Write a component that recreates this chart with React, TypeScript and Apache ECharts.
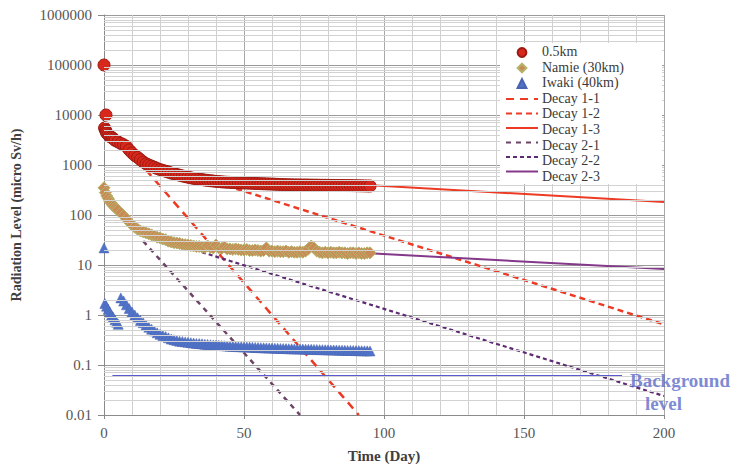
import React, { useEffect, useRef } from "react";
import * as echarts from "echarts";

const FONT = "Liberation Serif";

// ---- Data (day, micro Sv/h) ----
const km05Early: [number, number][] = [
  [0, 100000], [0.7, 10000],
  [0.2, 5500], [0.5, 5000], [0.8, 4600], [1, 4300], [1.5, 4000], [2, 3800],
  [2.5, 3600], [3, 3500], [3.5, 3300], [4, 3100],
];
const km05DailyStart = 5;
const km05Daily = [
  2900, 2700, 2550, 2350, 2000, 1750, 1550, 1420, 1280, 1150, 1060, 1000, 950, 900, 850, 810,
  780, 750, 720, 690, 670, 645, 625, 605, 585, 570, 555, 540, 530, 520, 510, 500, 492, 485, 478,
  470, 466, 460, 456, 452, 450, 447, 444, 442, 440, 438, 436, 433, 430, 428, 425, 423, 421, 419,
  417, 415, 413, 410, 408, 406, 404, 402, 401, 400, 400, 399, 398, 398, 397, 396, 395, 395, 394,
  393, 393, 392, 391, 391, 390, 390, 389, 388, 388, 387, 386, 385, 384, 383, 382, 381, 380,
];

const namieEarly: [number, number][] = [
  [0, 350], [0.5, 280], [1, 240], [1.5, 215], [2, 190], [2.5, 175], [3, 160], [3.5, 150],
  [4, 140], [4.5, 132],
];
const namieDailyStart = 5;
const namieDaily = [
  125, 110, 97, 84, 72, 63, 57, 52, 48, 46, 44, 42, 40, 38, 36, 35, 33, 32, 30, 29, 28, 27.5, 27,
  26, 25.5, 25, 24.5, 24, 23.5, 23.5, 23, 22.5, 24, 22.5, 22, 25, 22, 21.5, 23, 21, 21, 20.5, 21,
  20.5, 20, 20, 20.5, 19.5, 19.5, 20, 19.5, 19, 19.5, 22, 19, 19, 18.5, 19, 18.5, 18.5, 19, 18,
  18.5, 18, 18, 18.5, 18, 19, 21, 24, 22, 19, 18, 17.5, 18, 17.5, 18, 17.5, 17.5, 18, 17.5, 17.5,
  17, 17.5, 17.5, 17, 17.5, 17, 17, 17.5, 17.5,
];

const iwakiEarly: [number, number][] = [
  [0, 22], [0.3, 1.7], [0.9, 1.5], [1.5, 1.3], [2.1, 1.15], [2.7, 1.0], [3.3, 0.9], [3.9, 0.8],
  [4.5, 0.72], [5.1, 0.65],
];
const iwakiDailyStart = 6;
const iwakiDaily = [
  2.2, 1.9, 1.6, 1.35, 1.15, 1.0, 0.88, 0.78, 0.7, 0.63, 0.57, 0.52, 0.48, 0.44, 0.41, 0.39, 0.37,
  0.35, 0.33, 0.32, 0.31, 0.3, 0.295, 0.29, 0.285, 0.28, 0.275, 0.27, 0.268, 0.265, 0.26, 0.258,
  0.255, 0.252, 0.25, 0.248, 0.245, 0.243, 0.24, 0.238, 0.236, 0.235, 0.233, 0.232, 0.23, 0.229,
  0.228, 0.226, 0.225, 0.224, 0.222, 0.221, 0.22, 0.219, 0.218, 0.217, 0.216, 0.215, 0.214, 0.213,
  0.212, 0.211, 0.21, 0.21, 0.209, 0.208, 0.207, 0.206, 0.206, 0.205, 0.204, 0.203, 0.203, 0.202,
  0.201, 0.2, 0.2, 0.199, 0.198, 0.198, 0.197, 0.196, 0.196, 0.195, 0.194, 0.194, 0.193, 0.192,
  0.192, 0.191,
];

const decay11: [number, number][] = [[15, 800], [91, 0.01]];
const decay12: [number, number][] = [[20, 1020], [200, 0.65]];
const decay13: [number, number][] = [[80, 440], [200, 182]];
const decay21: [number, number][] = [[14, 30], [70, 0.01]];
const decay22: [number, number][] = [[35, 18], [200, 0.024]];
const decay23: [number, number][] = [[80, 19], [200, 8.3]];
const background: [number, number][] = [[3, 0.06], [185, 0.06]];

const legendNames = [
  "0.5km", "Namie (30km)", "Iwaki (40km)", "Decay 1-1", "Decay 1-2", "Decay 1-3",
  "Decay 2-1", "Decay 2-2", "Decay 2-3",
];

const yMin = 0.01;
const yMax = 1000000;

function daily(start: number, vals: number[]): [number, number][] {
  return vals.map((v, i) => [start + i, v]);
}

function yLabel(v: number): string {
  const e = Math.round(Math.log10(v));
  return e >= 0 ? String(Math.pow(10, e)) : Math.pow(10, e).toFixed(-e);
}

const TRANSPARENT = "rgba(0,0,0,0)";

// legend layout
const LEG_LEFT = 500;
const LEG_TOP = 43;
const LEG_PAD_TOP = 4;
const LEG_PAD_LEFT = 5;
const LEG_ICON_W = 32;
const LEG_ICON_H = 11;
const LEG_ROW = 15.6;
const LEG_BOX_RIGHT = 660;

export default function App() {
  const ref = useRef<HTMLDivElement>(null);
  useEffect(() => {
    document.body.style.margin = "0";
    if (!ref.current) return;
    const chart = echarts.init(ref.current, undefined, { renderer: "svg" });

    const minorLines: { yAxis: number }[] = [];
    for (let k = Math.round(Math.log10(yMin)); k < Math.round(Math.log10(yMax)); k++) {
      for (let m = 2; m <= 9; m++) minorLines.push({ yAxis: m * Math.pow(10, k) });
    }

    const lineSeries = (name: string, data: [number, number][], color: string, width: number, type: any) => ({
      name,
      type: "line",
      data,
      symbol: "none",
      z: 3,
      lineStyle: { color, width, type },
      itemStyle: { color: TRANSPARENT },
    });

    const markerSeries = (name: string, data: [number, number][], symbol: string, size: number, color: string, border: string, bw: number) => ({
      name,
      type: "line",
      data,
      clip: false,
      z: 4,
      symbol,
      symbolSize: size,
      showSymbol: true,
      showAllSymbol: true,
      lineStyle: { width: 0, opacity: 0, color },
      itemStyle: { color, borderColor: border, borderWidth: bw, opacity: 1 },
    });

    const textLeft = LEG_LEFT + LEG_PAD_LEFT + LEG_ICON_W + 5;
    const firstRowCenter = LEG_TOP + LEG_PAD_TOP + LEG_ICON_H / 2;

    chart.setOption({
      animation: false,
      backgroundColor: "#fff",
      textStyle: { fontFamily: FONT },
      grid: { left: 104, top: 15, right: 69, bottom: 53, containLabel: false, outerBoundsMode: "none" },
      legend: {
        data: legendNames,
        orient: "vertical",
        left: LEG_LEFT,
        top: LEG_TOP,
        z: 20,
        itemWidth: LEG_ICON_W,
        itemHeight: LEG_ICON_H,
        itemGap: LEG_ROW - LEG_ICON_H,
        formatter: () => "",
        backgroundColor: "#fff",
        padding: [LEG_PAD_TOP, LEG_BOX_RIGHT - (LEG_LEFT + LEG_PAD_LEFT + LEG_ICON_W), 8, LEG_PAD_LEFT],
        textStyle: { fontFamily: FONT, fontSize: 14, color: "#3a3a3a" },
      },
      graphic: [
        {
          type: "group",
          left: textLeft,
          top: firstRowCenter - 8,
          z: 30,
          children: legendNames.map((name, i) => ({
            type: "text",
            x: 0,
            y: i * LEG_ROW + 8,
            z: 30,
            style: {
              text: name,
              font: `14px "${FONT}", serif`,
              fill: "#3a3a3a",
              verticalAlign: "middle",
              align: "left",
            },
          })),
        },
      ],
      xAxis: {
        type: "value",
        min: 0,
        max: 200,
        interval: 50,
        name: "Time (Day)",
        nameLocation: "middle",
        nameGap: 33,
        nameTextStyle: { fontFamily: FONT, fontSize: 15, fontWeight: "bold", color: "#404040" },
        axisLine: { lineStyle: { color: "#8a8a8a" } },
        axisTick: { show: true, length: 4, lineStyle: { color: "#8a8a8a" } },
        axisLabel: { fontFamily: FONT, fontSize: 15, color: "#555", margin: 10 },
        splitLine: { show: true, lineStyle: { color: "#a8a8a8" } },
        minorTick: { show: false, splitNumber: 5 },
        minorSplitLine: { show: true, lineStyle: { color: "#cfcfcf" } },
      },
      yAxis: {
        type: "log",
        logBase: 10,
        min: yMin,
        max: yMax,
        interval: 1,
        name: "Radiation Level (micro Sv/h)",
        nameLocation: "middle",
        nameGap: 81,
        nameTextStyle: { fontFamily: FONT, fontSize: 14, fontWeight: "bold", color: "#404040" },
        axisLine: { show: true, lineStyle: { color: "#8a8a8a" } },
        axisTick: { show: true, length: 6, lineStyle: { color: "#8a8a8a" } },
        axisLabel: { fontFamily: FONT, fontSize: 15, color: "#555", margin: 12, formatter: yLabel },
        splitLine: { show: true, lineStyle: { color: "#9a9a9a" } },
      },
      series: [
        {
          name: "minor-grid",
          type: "line",
          data: [],
          z: 1,
          silent: true,
          markLine: {
            silent: true,
            symbol: "none",
            label: { show: false },
            lineStyle: { color: "#d2d2d2", width: 1, type: "solid" },
            data: minorLines,
          },
        },
        markerSeries("0.5km", [...km05Early, ...daily(km05DailyStart, km05Daily)], "circle", 12, "#d8281c", "#9c1a12", 1),
        markerSeries("Namie (30km)", [...namieEarly, ...daily(namieDailyStart, namieDaily)], "diamond", 12, "#c98a55", "#b4b46a", 1),
        markerSeries("Iwaki (40km)", [...iwakiEarly, ...daily(iwakiDailyStart, iwakiDaily)], "triangle", 10, "#4f73c8", "#4a62b0", 0.5),
        lineSeries("Decay 1-1", decay11, "#ec3a24", 2.5, [8, 6]),
        lineSeries("Decay 1-2", decay12, "#ec3a24", 2.5, [6, 4]),
        lineSeries("Decay 1-3", decay13, "#ec3a24", 2, "solid"),
        lineSeries("Decay 2-1", decay21, "#6e4466", 2.5, [5, 5]),
        lineSeries("Decay 2-2", decay22, "#5e2a72", 2.2, [4, 3]),
        lineSeries("Decay 2-3", decay23, "#84388a", 2, "solid"),
        {
          name: "Background",
          type: "line",
          data: background,
          symbol: "none",
          z: 3,
          lineStyle: { color: "#5a5ad0", width: 2 },
        },
        {
          name: "Background label",
          type: "scatter",
          clip: false,
          symbolSize: 0,
          z: 5,
          data: [background[background.length - 1]],
          label: {
            show: true,
            position: "right",
            distance: 8,
            offset: [0, 16],
            formatter: "{a|Background}\n{b|level}",
            rich: {
              a: { fontFamily: FONT, fontSize: 19, fontWeight: "bold", color: "#5b6bc9", lineHeight: 23 },
              b: { fontFamily: FONT, fontSize: 19, fontWeight: "bold", color: "#5b6bc9", lineHeight: 23, padding: [0, 0, 0, 15] },
            },
          },
        },
      ],
    });
    return () => chart.dispose();
  }, []);
  return <div ref={ref} style={{ width: 733, height: 468 }} />;
}
